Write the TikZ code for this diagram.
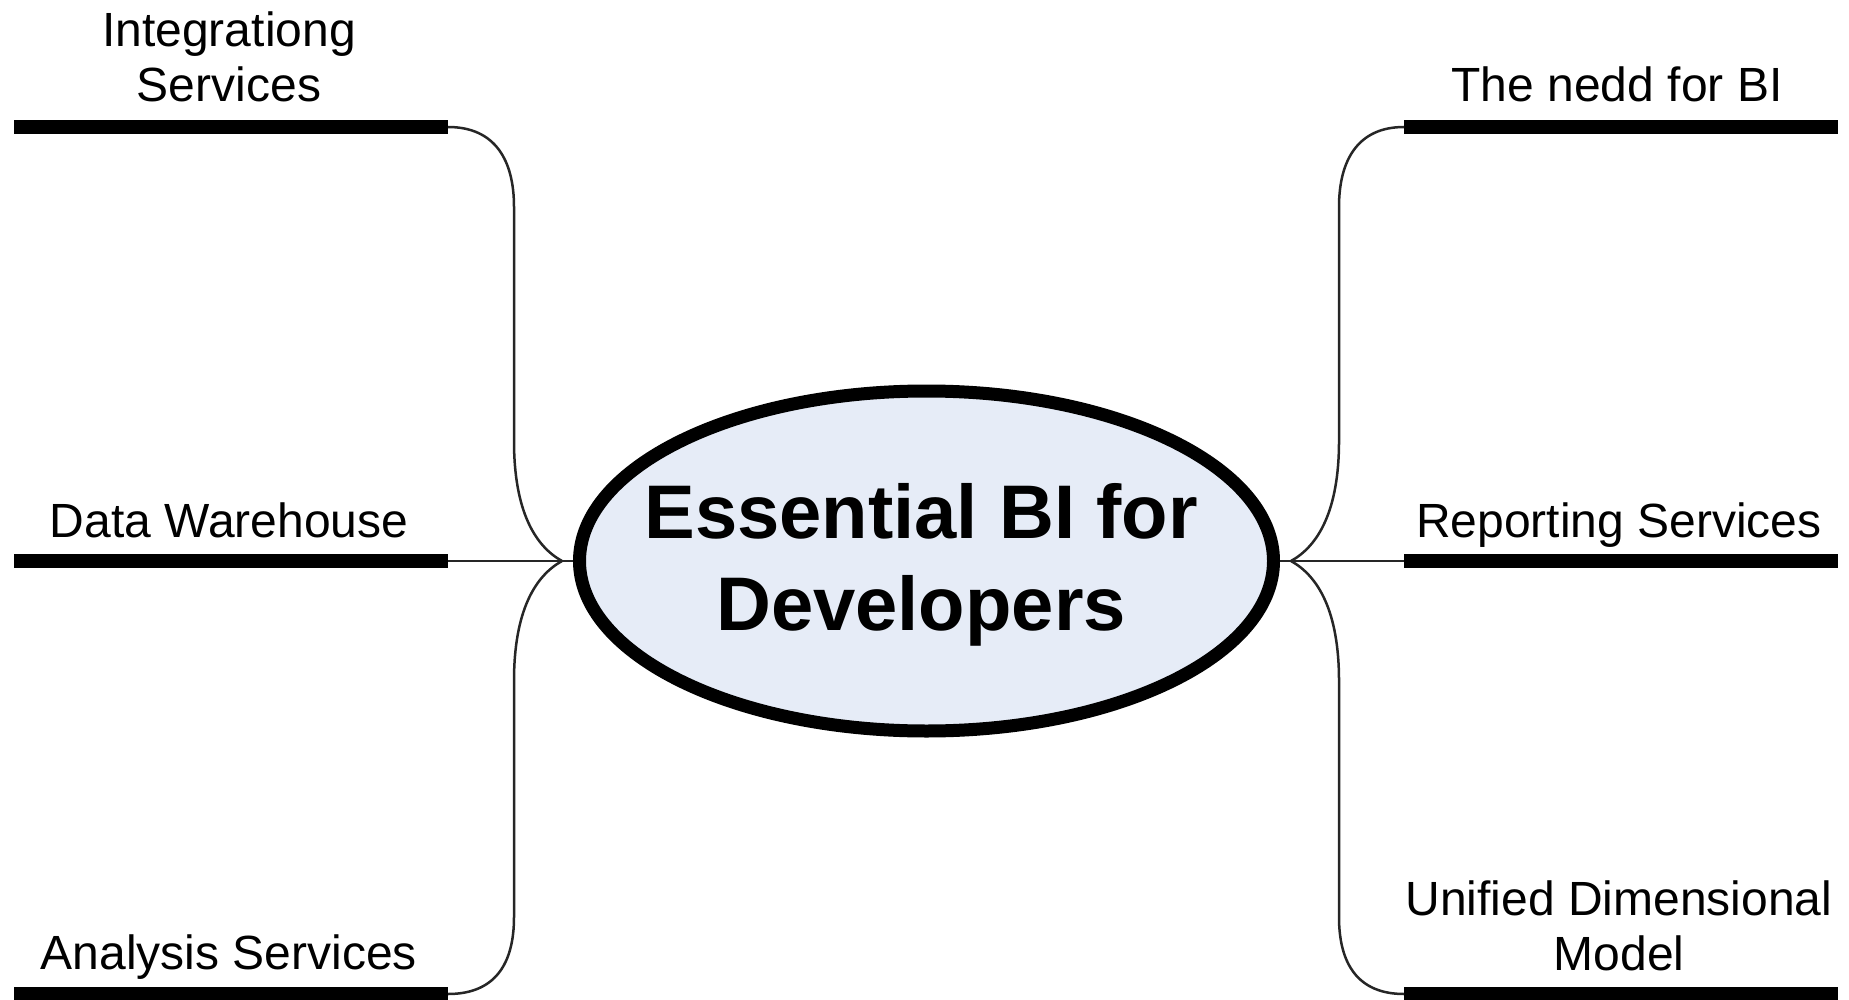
\documentclass[tikz,border=0pt]{standalone}
\usepackage{fontspec}
\setmainfont{Liberation Sans}
\usetikzlibrary{shapes.geometric}
\definecolor{ellfill}{HTML}{E6ECF7}
\tikzset{
  barline/.style={line width=14pt, black, line cap=butt},
  conn/.style={line width=2.5pt, black!85},
  lbl/.style={font=\fontsize{48}{55}\selectfont, align=center, anchor=base, inner sep=0pt},
  centre/.style={ellipse, draw, line width=13pt, fill=ellfill, minimum width=694pt, minimum height=340pt, inner sep=0pt}
}
\begin{document}
\begin{tikzpicture}[x=1pt,y=-1pt]
\useasboundingbox (0,0) rectangle (1849,1000);
% central node
\node[centre] (c) at (926.5,561) {};
\node[font=\bfseries\fontsize{76}{92}\selectfont, align=center, anchor=base, inner sep=0pt] (t) at (921,630) {Essential BI for\\Developers};
% bars
\coordinate (l1a) at (14,127);  \coordinate (l1b) at (448,127);
\coordinate (l2a) at (14,561);  \coordinate (l2b) at (448,561);
\coordinate (l3a) at (14,994);  \coordinate (l3b) at (448,994);
\coordinate (r1a) at (1404,127); \coordinate (r1b) at (1838,127);
\coordinate (r2a) at (1404,561); \coordinate (r2b) at (1838,561);
\coordinate (r3a) at (1404,994); \coordinate (r3b) at (1838,994);
\coordinate (jl) at (562,561);
\coordinate (jr) at (1291,561);
\draw[barline] (l1a) -- (l1b);
\draw[barline] (l2a) -- (l2b);
\draw[barline] (l3a) -- (l3b);
\draw[barline] (r1a) -- (r1b);
\draw[barline] (r2a) -- (r2b);
\draw[barline] (r3a) -- (r3b);
% connectors left
\draw[conn] (l2b) -- (c.west);
\draw[conn] (jl) .. controls (535,546) and (514,511) .. (514,441) -- (514,207) .. controls (514,160) and (495,127) .. (l1b);
\draw[conn] (jl) .. controls (535,576) and (514,611) .. (514,681) -- (514,917) .. controls (514,964) and (495,994) .. (l3b);
% connectors right
\draw[conn] (r2a) -- (c.east);
\draw[conn] (jr) .. controls (1318,546) and (1339,511) .. (1339,441) -- (1339,207) .. controls (1339,160) and (1358,127) .. (r1a);
\draw[conn] (jr) .. controls (1318,576) and (1339,611) .. (1339,681) -- (1339,917) .. controls (1339,964) and (1358,994) .. (r3a);
% labels
\node[lbl] (n1) at (229,102) {Integrationg\\Services};
\node[lbl] (n2) at (229,537) {Data Warehouse};
\node[lbl] (n3) at (229,969) {Analysis Services};
\node[lbl] (n4) at (1617,102) {The nedd for BI};
\node[lbl] (n5) at (1619,537) {Reporting Services};
\node[lbl] (n6) at (1619,970) {Unified Dimensional\\Model};
\end{tikzpicture}
\end{document}
